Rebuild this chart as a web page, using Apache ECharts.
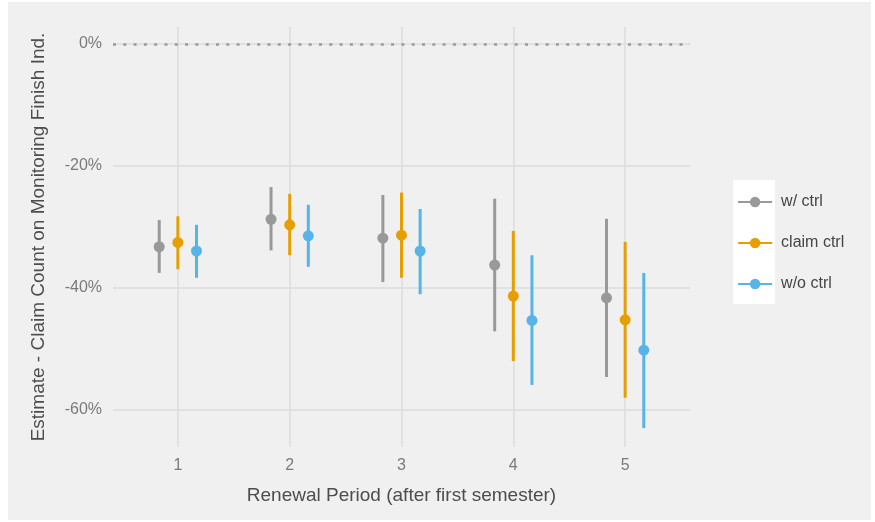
<!DOCTYPE html>
<html>
<head>
<meta charset="utf-8">
<script src="https://cdn.jsdelivr.net/npm/echarts@6/dist/echarts.min.js"></script>
<style>html,body{margin:0;padding:0;background:#fff;}#c{width:875px;height:522px;}</style>
</head>
<body>
<div id="c"></div>
<script>
const periods = [1, 2, 3, 4, 5];
const seriesNames = ['w/ ctrl', 'claim ctrl', 'w/o ctrl'];
const colors = ['#999999', '#E69F00', '#56B4E9'];
const yTicks = [0, -20, -40, -60];

const estW = [-33.3, -28.8, -31.9, -36.3, -41.7];
const loW  = [-37.6, -33.9, -39.1, -47.2, -54.7];
const hiW  = [-28.9, -23.5, -24.8, -25.4, -28.7];

const estC = [-32.6, -29.7, -31.4, -41.4, -45.3];
const loC  = [-37.0, -34.7, -38.4, -52.1, -58.1];
const hiC  = [-28.3, -24.6, -24.4, -30.7, -32.5];

const estO = [-34.0, -31.5, -34.0, -45.4, -50.3];
const loO  = [-38.4, -36.6, -41.1, -56.0, -63.1];
const hiO  = [-29.7, -26.4, -27.1, -34.7, -37.6];

const groups = [[estW, loW, hiW], [estC, loC, hiC], [estO, loO, hiO]];
const dodge = [-1/6, 0, 1/6];
const FONT = 'Liberation Sans';

const series = [];
groups.forEach((g, i) => {
  const [est, lo, hi] = g;
  series.push({
    name: seriesNames[i] + ' range',
    type: 'custom',
    silent: true,
    z: 2,
    data: periods.map((p, k) => [p + dodge[i], lo[k], hi[k]]),
    encode: { x: 0, y: [1, 2] },
    renderItem: function (params, api) {
      const a = api.coord([api.value(0), api.value(1)]);
      const b = api.coord([api.value(0), api.value(2)]);
      return {
        type: 'line',
        shape: { x1: a[0], y1: a[1], x2: b[0], y2: b[1] },
        style: { stroke: colors[i], lineWidth: 3 }
      };
    }
  });
  series.push({
    name: seriesNames[i],
    type: 'line',
    silent: true,
    z: 3,
    data: periods.map((p, k) => [p + dodge[i], est[k]]),
    symbol: 'circle',
    symbolSize: 11,
    showSymbol: true,
    itemStyle: { color: colors[i] },
    lineStyle: { opacity: 0, width: 0 },
    emphasis: { disabled: true },
    markLine: i === 0 ? {
      silent: true,
      symbol: 'none',
      label: { show: false },
      lineStyle: { color: '#999999', width: 2.5, type: [3, 7.3], opacity: 1 },
      data: [{ yAxis: 0 }]
    } : undefined
  });
});

const chart = echarts.init(document.getElementById('c'), null, { renderer: 'canvas' });
chart.setOption({
  animation: false,
  backgroundColor: '#ffffff',
  textStyle: { fontFamily: FONT },
  graphic: [
    { type: 'rect', z: -100, shape: { x: 8, y: 2, width: 863, height: 518 }, style: { fill: '#f0f0f0' } },
    { type: 'rect', z: -50, shape: { x: 733, y: 180, width: 42, height: 124 }, style: { fill: '#ffffff' } }
  ],
  grid: { left: 113, right: 185, top: 27, bottom: 75, containLabel: false, outerBoundsMode: 'none' },
  legend: {
    orient: 'vertical',
    left: 737,
    top: 194,
    padding: 0,
    itemWidth: 34,
    itemHeight: 13,
    itemGap: 25,
    data: seriesNames,
    selectedMode: false,
    lineStyle: { width: 2.2, opacity: 1 },
    textStyle: { fontFamily: FONT, fontSize: 16, color: '#454545', lineHeight: 16, padding: [0, 0, 0, 4] }
  },
  xAxis: {
    type: 'value',
    min: 0.42,
    max: 5.58,
    name: 'Renewal Period (after first semester)',
    nameLocation: 'middle',
    nameGap: 39,
    nameTextStyle: { fontFamily: FONT, fontSize: 19, color: '#4d4d4d' },
    axisLine: { show: false },
    axisTick: { show: false, customValues: periods },
    axisLabel: { customValues: periods, fontSize: 16, color: '#7a7a7a', margin: 11, fontFamily: FONT },
    splitLine: { show: true, lineStyle: { color: '#dcdcdc', width: 1.5 } }
  },
  yAxis: {
    type: 'value',
    min: -66.2,
    max: 2.8,
    name: 'Estimate - Claim Count on Monitoring Finish Ind.',
    nameLocation: 'middle',
    nameGap: 65,
    nameTextStyle: { fontFamily: FONT, fontSize: 19, color: '#4d4d4d' },
    axisLine: { show: false },
    axisTick: { show: false, customValues: yTicks },
    axisLabel: { customValues: yTicks, fontSize: 16, color: '#7a7a7a', margin: 11, fontFamily: FONT, formatter: v => v + '%' },
    splitLine: { show: true, lineStyle: { color: '#dcdcdc', width: 1.5 } }
  },
  series: series
});
</script>
</body>
</html>
